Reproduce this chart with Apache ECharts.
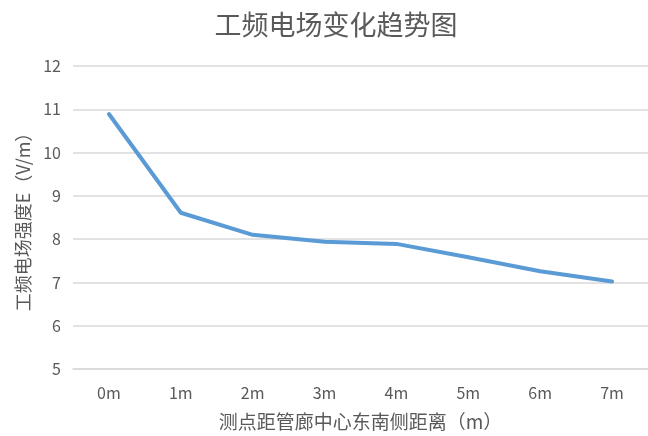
<!DOCTYPE html>
<html>
<head>
<meta charset="utf-8">
<script src="https://cdn.jsdelivr.net/npm/echarts@6/dist/echarts.min.js"></script>
<style>
html,body{margin:0;padding:0;background:#fff;}
#chart{width:648px;height:436px;}
</style>
</head>
<body>
<div id="chart"></div>
<script>
var titleText = '工频电场变化趋势图';
var xAxisName = '测点距管廊中心东南侧距离（m）';
var yAxisName = '工频电场强度E（V/m）';
var categories = ['0m', '1m', '2m', '3m', '4m', '5m', '6m', '7m'];
var fieldValues = [10.89, 8.61, 8.1, 7.94, 7.89, 7.58, 7.26, 7.02];
var yTicks = [5, 6, 7, 8, 9, 10, 11, 12];

var font = '"Noto Sans CJK SC", "Noto Sans", sans-serif';
var chart = echarts.init(document.getElementById('chart'), null, {renderer: 'canvas'});
chart.setOption({
  animation: false,
  backgroundColor: '#ffffff',
  title: {
    text: titleText,
    left: 331,
    textAlign: 'center',
    top: 6,
    textStyle: {fontFamily: font, fontSize: 27, fontWeight: 'normal', color: '#595959'}
  },
  grid: {left: 73, right: -6, top: 66, bottom: 65, containLabel: false},
  xAxis: {
    type: 'category',
    data: categories,
    boundaryGap: true,
    name: xAxisName,
    nameLocation: 'middle',
    nameGap: 43,
    nameTextStyle: {fontFamily: font, fontSize: 19, color: '#595959'},
    axisLine: {show: true, lineStyle: {color: '#d9d9d9', width: 1.5}},
    axisTick: {show: false},
    axisLabel: {fontFamily: font, fontSize: 16, color: '#595959', margin: 16}
  },
  yAxis: {
    type: 'value',
    min: yTicks[0],
    max: yTicks[yTicks.length - 1],
    interval: 1,
    name: yAxisName,
    nameLocation: 'middle',
    nameRotate: 90,
    nameGap: 41,
    nameTextStyle: {fontFamily: font, fontSize: 18, color: '#595959'},
    axisLine: {show: false},
    axisTick: {show: false},
    axisLabel: {fontFamily: font, fontSize: 16, color: '#595959', margin: 12},
    splitLine: {show: true, lineStyle: {color: '#d9d9d9', width: 1.5}}
  },
  series: [{
    type: 'line',
    data: fieldValues,
    symbol: 'none',
    smooth: false,
    lineStyle: {color: '#5b9bd5', width: 4, cap: 'round', join: 'round'}
  }]
});
</script>
</body>
</html>
